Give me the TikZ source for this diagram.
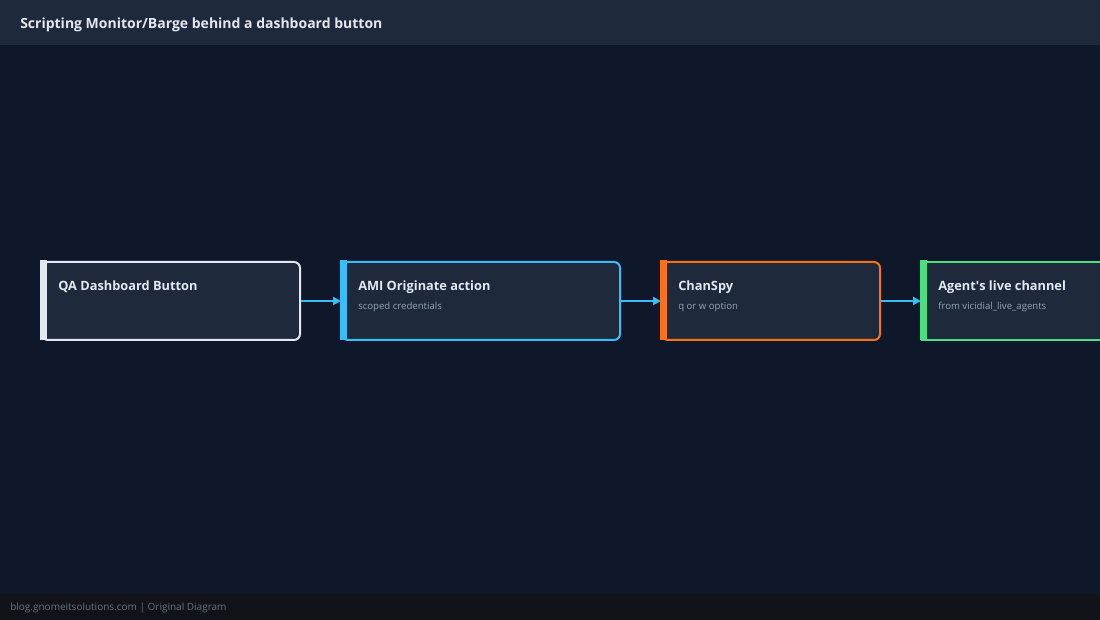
\documentclass[tikz,border=0pt]{standalone}
\usepackage{fontspec}
\setmainfont{Open Sans}
\usetikzlibrary{positioning,arrows.meta}
\definecolor{bgdark}{HTML}{0F172A}
\definecolor{barbg}{HTML}{1E293B}
\definecolor{footbg}{HTML}{111318}
\definecolor{boxbg}{HTML}{1E293B}
\definecolor{txtmain}{HTML}{E2E8F0}
\definecolor{txtsub}{HTML}{94A3B8}
\definecolor{cwhite}{HTML}{E2E8F0}
\definecolor{cblue}{HTML}{38BDF8}
\definecolor{corange}{HTML}{F97316}
\definecolor{cgreen}{HTML}{4ADE80}
\tikzset{
  step/.style={draw=#1, fill=boxbg, line width=1.5pt, rounded corners=4.5pt,
    minimum height=58.5pt, inner sep=0pt},
  head/.style={anchor=base west, text=txtmain, font=\fontsize{9.6}{12}\selectfont\bfseries, inner sep=0pt},
  sub/.style={anchor=base west, text=txtsub, font=\fontsize{7.2}{9}\selectfont, inner sep=0pt},
  flow/.style={draw=cblue, line width=1.5pt, -{Triangle[length=6pt,width=6pt]}}
}
\begin{document}
\begin{tikzpicture}[x=0.75pt,y=-0.75pt]
  \useasboundingbox (0,0) rectangle (1100,620);
  \clip (0,0) rectangle (1100,620);
  \fill[bgdark] (0,0) rectangle (1100,620);
  \fill[barbg] (0,0) rectangle (1100,45);
  \fill[footbg] (0,594) rectangle (1100,620);
  \node[anchor=base west, text=txtmain, font=\fontsize{10.5}{13}\selectfont\bfseries, inner sep=0pt]
    (title) at (20,29) {Scripting Monitor/Barge behind a dashboard button};
  \node[anchor=base west, text=txtsub!70!black, font=\fontsize{7.5}{9}\selectfont, inner sep=0pt]
    (foot) at (10,610) {blog.gnomeitsolutions.com | Original Diagram};

  % boxes
  \node[step=cwhite, minimum width=193.5pt, anchor=north west] (qa) at (41,261) {};
  \node[step=cblue, minimum width=208.5pt, anchor=north west] (ami) at (341,261) {};
  \node[step=corange, minimum width=163.5pt, anchor=north west] (spy) at (661,261) {};
  \node[step=cgreen, minimum width=163.5pt, anchor=north west, rounded corners=0pt] (chan) at (921,261) {};

  % thick left edges
  \fill[cwhite] (40,260) rectangle (46.5,340);
  \fill[cblue] (340,260) rectangle (346.5,340);
  \fill[corange] (660,260) rectangle (666.5,340);
  \fill[cgreen] (920,260) rectangle (926.5,340);

  \node[head] (qah) at (58,290.5) {QA Dashboard Button};
  \node[head] (amih) at (358,290.5) {AMI Originate action};
  \node[sub] (amis) at (358,310) {scoped credentials};
  \node[head] (spyh) at (678,290.5) {ChanSpy};
  \node[sub] (spys) at (678,310) {q or w option};
  \node[head] (chanh) at (938,290.5) {Agent\textquotesingle s live channel};
  \node[sub] (chans) at (938,310) {from vicidial\_live\_agents};

  \draw[flow] (qa.east) -- (ami.west);
  \draw[flow] (ami.east) -- (spy.west);
  \draw[flow] (spy.east) -- (chan.west);
\end{tikzpicture}
\end{document}
